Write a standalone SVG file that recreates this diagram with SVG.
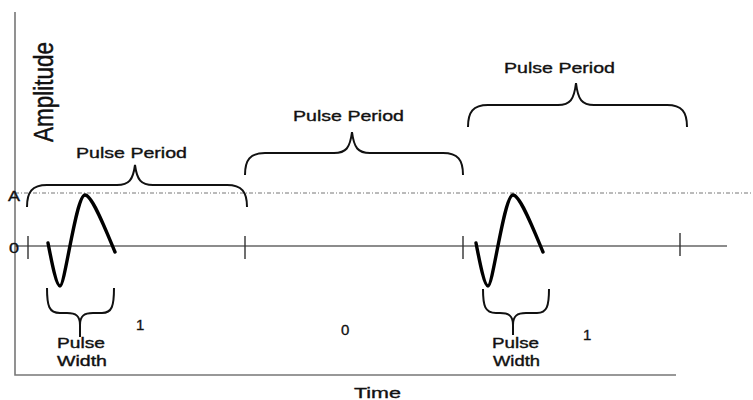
<svg xmlns="http://www.w3.org/2000/svg" width="753" height="400" viewBox="0 0 753 400">
<style>
text{font-family:"Liberation Sans",Arial,sans-serif;fill:#111;stroke:#111;stroke-width:0.35}
.axis{stroke:#777;stroke-width:1.6;fill:none}
.zero{stroke:#666;stroke-width:1.3;fill:none}
.tick{stroke:#333;stroke-width:1.4;fill:none}
.dash{stroke:#777;stroke-width:1;stroke-dasharray:4 2 1 2;fill:none}
.brace{stroke:#111;stroke-width:2;fill:none}
.wave{stroke:#000;stroke-width:3.4;fill:none;stroke-linecap:round}
.pp{font-size:15px}
.pw{font-size:14px}
.num{font-size:15px}
</style>
<rect width="753" height="400" fill="#fff"/>
<g id="axes">
<path class="axis" d="M15,12 V375 H676"/>
<path class="dash" d="M15,193 H753"/>
<path class="zero" d="M15,246 H727"/>
<path class="tick" d="M28,236 V259 M245,236 V259 M463,236 V259 M680,233 V256"/>
<text x="8" y="201" font-size="14" textLength="12" lengthAdjust="spacingAndGlyphs">A</text>
<text x="9" y="253" font-size="14" textLength="10" lengthAdjust="spacingAndGlyphs">0</text>
<text transform="translate(53,142) scale(1.25,1) rotate(-90)" font-size="22" textLength="100" lengthAdjust="spacingAndGlyphs">Amplitude</text>
<text x="354" y="398" font-size="15" textLength="47" lengthAdjust="spacingAndGlyphs">Time</text>
</g>
<g id="pulse1">
<path class="wave" d="M48,243 C51,258 56,286 60,286 C65,286 76,195 85,195 C92,195 105,228 115,252"/>
</g>
<g id="pulse2">
<path class="wave" transform="translate(428,0)" d="M48,243 C51,258 56,286 60,286 C65,286 76,195 85,195 C92,195 105,228 115,252"/>
</g>
<g id="period1">
<path class="brace" d="M27,207 C27,192 32,185 47,185 L117,185 C129,185 133,180 135,165 C137,180 141,185 153,185 L227,185 C242,185 247,192 247,207"/>
<text class="pp" x="76" y="158" textLength="111" lengthAdjust="spacingAndGlyphs">Pulse Period</text>
</g>
<g id="period2">
<path class="brace" d="M245,175 C245,160 250,153 265,153 L334,153 C346,153 350,148 352,132 C354,148 358,153 370,153 L443,153 C458,153 463,160 463,175"/>
<text class="pp" x="293" y="121" textLength="111" lengthAdjust="spacingAndGlyphs">Pulse Period</text>
</g>
<g id="period3">
<path class="brace" d="M468,127 C468,112 473,105 488,105 L558,105 C570,105 574,100 576,83 C578,100 582,105 594,105 L667,105 C682,105 687,112 687,127"/>
<text class="pp" x="504" y="73" textLength="111" lengthAdjust="spacingAndGlyphs">Pulse Period</text>
</g>
<g id="width1">
<path class="brace" d="M47,288 C47,306 49,313 60,313 L67,313 C76,313 80,316 80,325 L80,337 M80,325 C80,316 84,313 93,313 L102,313 C112,313 114,306 114,288"/>
<text class="pw" x="57" y="348" textLength="48" lengthAdjust="spacingAndGlyphs">Pulse</text>
<text class="pw" x="57" y="366" textLength="50" lengthAdjust="spacingAndGlyphs">Width</text>
</g>
<g id="width2">
<path class="brace" d="M483,289 C483,306 485,313 496,313 L500,313 C509,313 513,316 513,325 L513,335 M513,325 C513,316 517,313 526,313 L537,313 C547,313 549,306 549,289"/>
<text class="pw" x="492" y="348" textLength="47" lengthAdjust="spacingAndGlyphs">Pulse</text>
<text class="pw" x="493" y="366" textLength="47" lengthAdjust="spacingAndGlyphs">Width</text>
</g>
<g id="bits">
<text class="num" x="136" y="330">1</text>
<text class="num" x="341" y="335">0</text>
<text class="num" x="583" y="340">1</text>
</g>
</svg>
